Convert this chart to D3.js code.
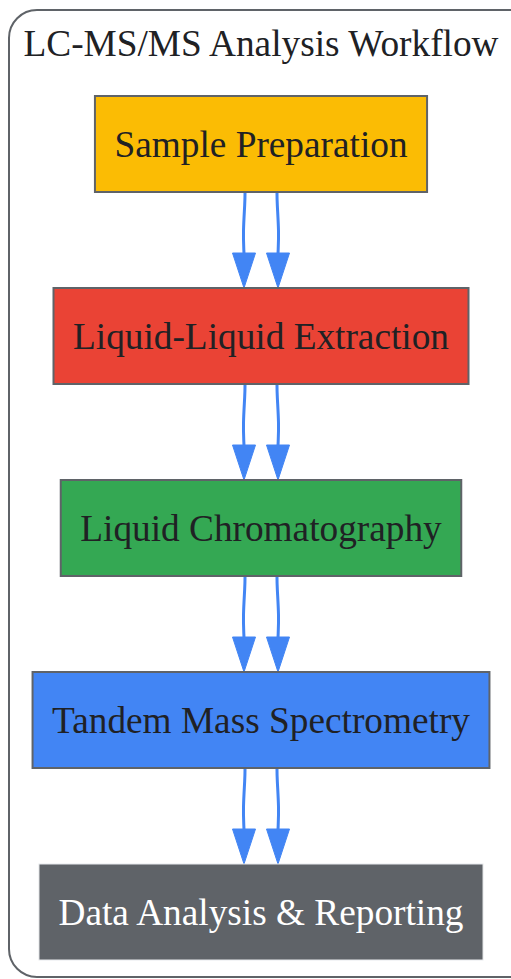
<!DOCTYPE html>
<html><head><meta charset="utf-8">
<script src="https://cdn.jsdelivr.net/npm/d3@7"></script>
<style>html,body{margin:0;padding:0;background:#fff;overflow:hidden}</style>
</head><body>
<script>
const title = "LC-MS/MS Analysis Workflow";
const steps = ["Sample Preparation","Liquid-Liquid Extraction","Liquid Chromatography","Tandem Mass Spectrometry","Data Analysis & Reporting"];
const fills = ["#FBBC04","#EA4335","#34A853","#4285F4","#5F6368"];
const textColors = ["#202124","#202124","#202124","#202124","#FFFFFF"];
const strokes = ["#5F6368","#5F6368","#5F6368","#5F6368","#E8EAED"];
const edges = [[0,1],[0,1],[1,2],[1,2],[2,3],[2,3],[3,4],[3,4]];

const W = 511, H = 979;
const svg = d3.select("body").append("svg").attr("width", W).attr("height", H);
const font = "'Liberation Serif','Times New Roman',serif";
const cx = 261;
const fs = 37.3;

const y = d3.scaleBand().domain(d3.range(steps.length)).range([0, 192*steps.length]).paddingInner(0.5).paddingOuter(0.25).align(0);
const yOff = 96 - y(0);

// cluster
svg.append("rect").attr("x", 9).attr("y", 10).attr("width", 530).attr("height", 967)
  .attr("rx", 28).attr("ry", 28).attr("fill", "none").attr("stroke", "#5F6368").attr("stroke-width", 2);
svg.append("text").attr("x", cx).attr("y", 56).attr("text-anchor", "middle")
  .attr("font-family", font).attr("font-size", fs).attr("fill", "#202124").text(title);

const bw = y.bandwidth();
// edges
const edgeG = svg.append("g");
const seen = {};
edges.forEach(([a,b]) => {
  const k = a+"-"+b; seen[k] = (seen[k]||0); const side = seen[k]++ === 0 ? -1 : 1;
  const x0 = cx + side*16;
  const y0 = y(a) + yOff + bw, y1 = y(b) + yOff;
  const ah = 35;
  const line = d3.line().curve(d3.curveBasis);
  edgeG.append("path").attr("d", line([[x0, y0],[x0, y0+10],[x0 + side*2, (y0+y1-ah)/2+10],[x0 + side*1, y1-ah],[x0 + side*1, y1-ah+2]]))
    .attr("fill","none").attr("stroke","#4285F4").attr("stroke-width",3);
  const tx = x0 + side*1;
  edgeG.append("path").attr("d", `M${tx-11.5},${y1-ah} L${tx+11.5},${y1-ah} L${tx},${y1} Z`).attr("fill","#4285F4").attr("stroke","#4285F4").attr("stroke-width",1);
});

// nodes
const ng = svg.selectAll("g.node").data(steps).join("g").attr("class","node");
ng.each(function(d,i){
  const g = d3.select(this);
  const rect = g.append("rect");
  const t = g.append("text").attr("x", cx).attr("y", y(i)+yOff+bw/2+13).attr("text-anchor","middle")
    .attr("font-family", font).attr("font-size", fs).attr("fill", textColors[i]).text(d);
  const tw = t.node().getComputedTextLength();
  const w = tw + 39;
  rect.attr("x", cx - w/2).attr("y", y(i)+yOff).attr("width", w).attr("height", bw)
    .attr("fill", fills[i]).attr("stroke", strokes[i]).attr("stroke-width", i===4?1:2);
  t.raise();
});
</script>
</body></html>
